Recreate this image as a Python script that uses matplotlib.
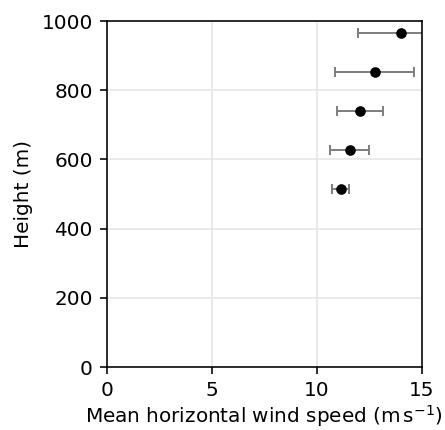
import matplotlib
matplotlib.use("Agg")
import matplotlib.pyplot as plt

# Mean horizontal wind speed profile with standard deviation
heights = [514, 627, 740, 853, 966]
wind_mean = [11.14, 11.57, 12.05, 12.76, 14.00]
wind_std = [0.40, 0.93, 1.10, 1.88, 2.05]

DPI = 144
plt.rcParams['font.size'] = 10
fig = plt.figure(figsize=(445 / DPI, 430 / DPI), dpi=DPI)
ax = fig.add_axes([0.240, 0.1465, 0.708, 0.8045])

ax.errorbar(wind_mean, heights, xerr=wind_std, fmt='o', color='black',
            ecolor='gray', elinewidth=1.0, capsize=2.3, capthick=1.0,
            markersize=4.3)

ax.set_xlim(0, 15)
ax.set_ylim(0, 1000)
ax.set_xticks([0, 5, 10, 15])
ax.set_yticks([0, 200, 400, 600, 800, 1000])
ax.grid(True, color='#e6e6e6', linewidth=0.8)
ax.set_axisbelow(True)
ax.set_xlabel(r'Mean horizontal wind speed (m$\,$s$^{-1}$)', labelpad=1.5)
ax.set_ylabel('Height (m)')

fig.savefig('out.png', dpi=DPI)
